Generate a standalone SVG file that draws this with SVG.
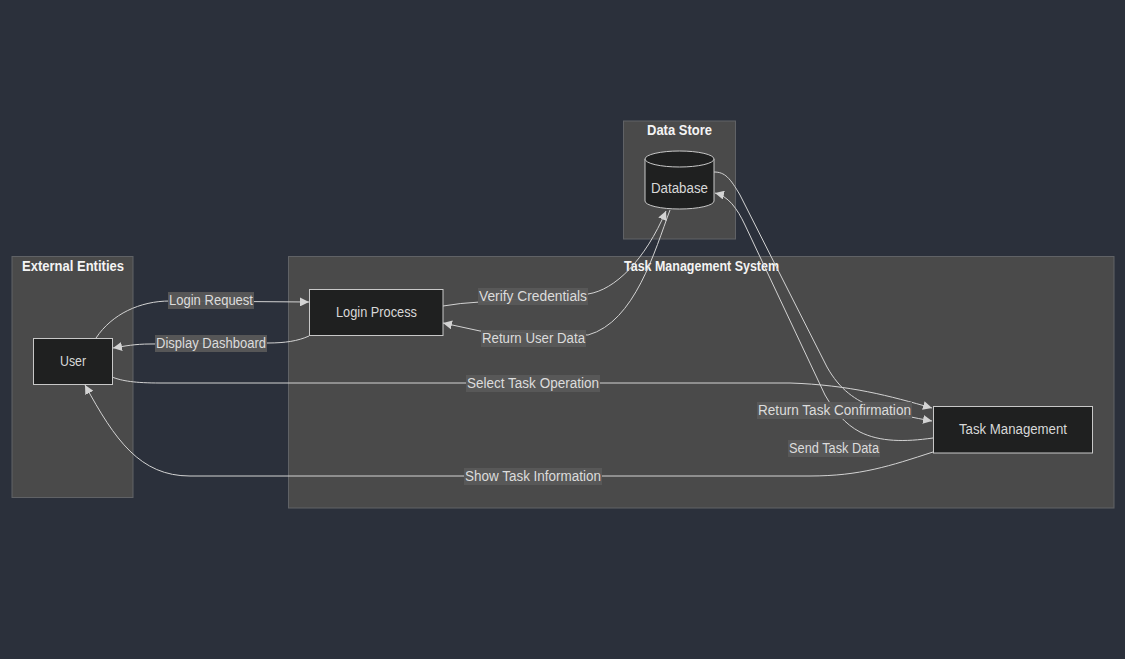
<svg xmlns="http://www.w3.org/2000/svg" width="1125" height="659" viewBox="0 0 1125 659">
<style>
.bg{fill:#2b303b}
.cluster{fill:#4a4a4a;stroke:#606266;stroke-width:1}
.ctitle{font-family:"Liberation Sans",Arial,sans-serif;font-size:14px;font-weight:bold;fill:#f4f4f4;text-anchor:middle;dominant-baseline:central}
.node{fill:#1f2020;stroke:#c8c8c8;stroke-width:1}
.ntext{font-family:"Liberation Sans",Arial,sans-serif;font-size:14px;fill:#d8d8d8;text-anchor:middle;dominant-baseline:central}
.edge{fill:none;stroke:#d3d3d3;stroke-width:1}
.lbg{fill:#585858;opacity:0.95}
.ltext{font-family:"Liberation Sans",Arial,sans-serif;font-size:14px;fill:#dcdcdc;text-anchor:middle;dominant-baseline:central}
</style>
<defs>
<marker id="arrow" viewBox="0 0 10 10" refX="10" refY="5" markerWidth="9" markerHeight="9" markerUnits="userSpaceOnUse" orient="auto">
<path d="M0,0 L10,5 L0,10 z" fill="#d3d3d3"/>
</marker>
</defs>
<rect class="bg" x="0" y="0" width="1125" height="659"/>

<g id="cluster-external">
<rect class="cluster" x="12" y="256.5" width="121" height="241"/>
<text class="ctitle" x="73" y="265.5" textLength="102" lengthAdjust="spacingAndGlyphs">External Entities</text>
</g>
<g id="cluster-tms">
<rect class="cluster" x="288.5" y="256.5" width="825.5" height="251.5"/>
<text class="ctitle" x="701.5" y="265.5" textLength="155" lengthAdjust="spacingAndGlyphs">Task Management System</text>
</g>
<g id="cluster-datastore">
<rect class="cluster" x="623.5" y="121" width="112" height="118"/>
<text class="ctitle" x="679.5" y="129.5" textLength="65" lengthAdjust="spacingAndGlyphs">Data Store</text>
</g>

<g id="connectors">
<path class="edge" marker-end="url(#arrow)" d="M96,338 C112,314 140,301 170,301 L309,302"/>
<path class="edge" marker-end="url(#arrow)" d="M309,336 C298,341 285,343 268,343 L150,344 C135,344 125,346 113,348"/>
<path class="edge" marker-end="url(#arrow)" d="M443,306 Q460,303 480,302 L588,294 C615,290 645,260 666,211"/>
<path class="edge" marker-end="url(#arrow)" d="M670,210 C655,250 635,322 588,335 L480,331 L443,323"/>
<path class="edge" marker-end="url(#arrow)" d="M112,377 C122,381 135,383 160,383 L790,383 C850,385 890,396 932,408"/>
<path class="edge" marker-end="url(#arrow)" d="M714,172 C725,172 730,178 740,195 L827,367 C840,390 855,400 875,408 C895,414 915,418 932,421"/>
<path class="edge" marker-end="url(#arrow)" d="M933,438 C905,442 880,442 860,432 C845,424 835,412 825,395 L745,225 C737,208 728,196 715,193"/>
<path class="edge" marker-end="url(#arrow)" d="M933,452 C890,466 860,476 810,476 L190,476 C140,476 115,440 85,385"/>

<g id="edge-labels">
<rect class="lbg" x="168" y="292" width="86" height="17"/>
<text class="ltext" x="211" y="299.8" textLength="84" lengthAdjust="spacingAndGlyphs">Login Request</text>
<rect class="lbg" x="155" y="335" width="112" height="17"/>
<text class="ltext" x="211" y="342.8" textLength="110" lengthAdjust="spacingAndGlyphs">Display Dashboard</text>
<rect class="lbg" x="478" y="288" width="110" height="17"/>
<text class="ltext" x="533" y="295.8" textLength="108" lengthAdjust="spacingAndGlyphs">Verify Credentials</text>
<rect class="lbg" x="481" y="330" width="105" height="17"/>
<text class="ltext" x="533.5" y="337.8" textLength="103" lengthAdjust="spacingAndGlyphs">Return User Data</text>
<rect class="lbg" x="466" y="375" width="134" height="17"/>
<text class="ltext" x="533" y="382.8" textLength="132" lengthAdjust="spacingAndGlyphs">Select Task Operation</text>
<rect class="lbg" x="757" y="402" width="155" height="17"/>
<text class="ltext" x="834.5" y="409.8" textLength="153" lengthAdjust="spacingAndGlyphs">Return Task Confirmation</text>
<rect class="lbg" x="788" y="440" width="92" height="17"/>
<text class="ltext" x="834" y="447.8" textLength="90" lengthAdjust="spacingAndGlyphs">Send Task Data</text>
<rect class="lbg" x="464" y="468" width="138" height="17"/>
<text class="ltext" x="533" y="475.8" textLength="136" lengthAdjust="spacingAndGlyphs">Show Task Information</text>
</g>
</g>

<g id="node-user">
<rect class="node" x="33.5" y="338.5" width="79" height="46"/>
<text class="ntext" x="73" y="360.8" textLength="26" lengthAdjust="spacingAndGlyphs">User</text>
</g>
<g id="node-login">
<rect class="node" x="309.5" y="289.5" width="133.5" height="46"/>
<text class="ntext" x="376.5" y="311.8" textLength="81" lengthAdjust="spacingAndGlyphs">Login Process</text>
</g>
<g id="node-taskmgmt">
<rect class="node" x="933.5" y="406.5" width="159" height="46.5"/>
<text class="ntext" x="1013" y="428.8" textLength="108" lengthAdjust="spacingAndGlyphs">Task Management</text>
</g>
<g id="node-database">
<path class="node" d="M645,159 A34.5,8 0 0 1 714,159 L714,201 A34.5,8 0 0 1 645,201 Z"/>
<path class="node" fill="none" d="M645,159 A34.5,8 0 0 0 714,159"/>
<text class="ntext" x="679.5" y="187.5" textLength="57" lengthAdjust="spacingAndGlyphs">Database</text>
</g>
</svg>
